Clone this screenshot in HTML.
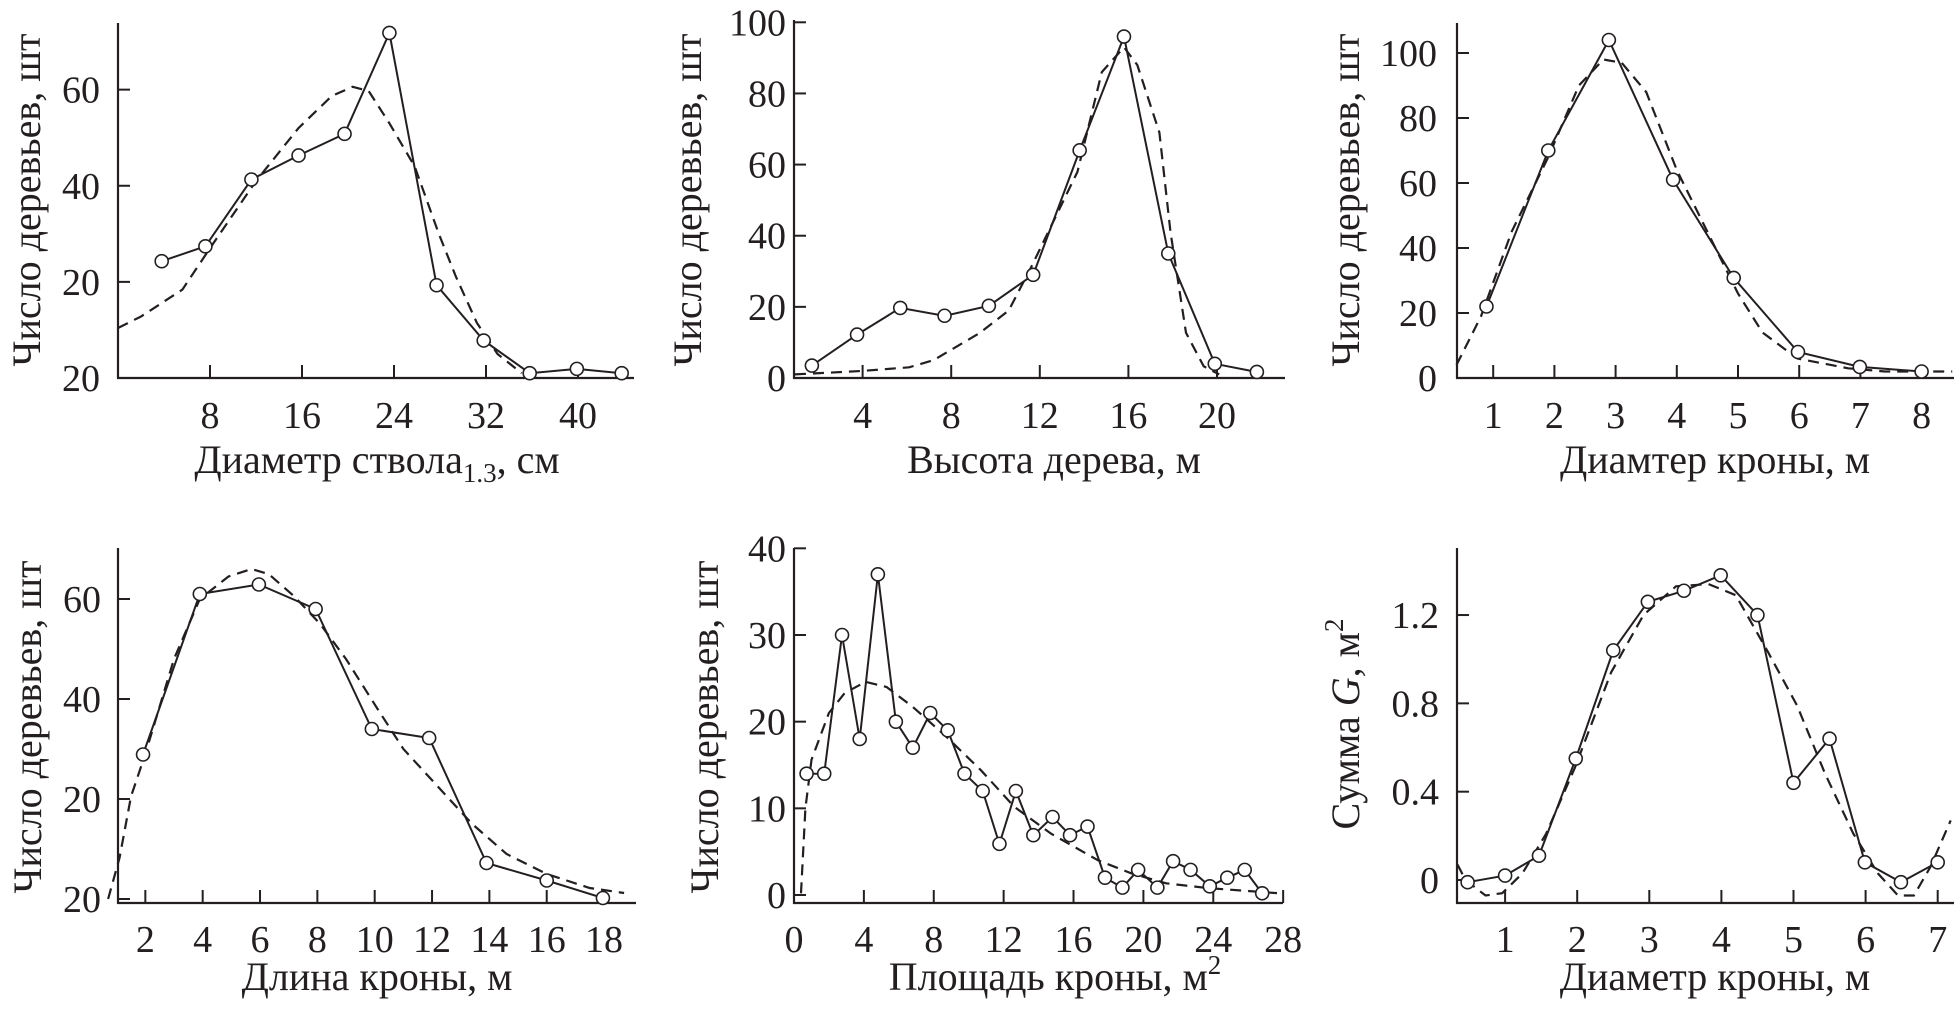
<!DOCTYPE html>
<html><head><meta charset="utf-8"><style>
html,body{margin:0;padding:0;background:#fff}
svg{display:block}
text{font-family:"Liberation Serif",serif;fill:#231f20}
</style></head><body>
<svg id="fig" width="1954" height="1012" viewBox="0 0 1954 1012" xmlns="http://www.w3.org/2000/svg"></svg>
<script>
// Panel 1: stem diameter
const p1X=[3.8,7.6,11.6,15.7,19.7,23.6,27.7,31.8,35.8,39.9,43.8];
const p1Y=[24.3,27.4,41.3,46.3,50.8,71.8,19.3,7.8,1,1.9,1];
const p1FX=[0,2,5.6,8,12,15.7,18.6,20.4,21.8,23.6,25.8,27.9,29.4,31.2,33,35.1];
const p1FY=[10.4,12.8,18.4,27,41,52,58.7,60.6,59.7,53,44,30,21,11.5,5,1];
const p1XT=[8,16,24,32,40];
const p1YT=[0,20,40,60];
const p1YL=["20","20","40","60"];
// Panel 2: tree height
const p2X=[1.71,3.75,5.7,7.7,9.7,11.7,13.8,15.8,17.8,19.9,21.8];
const p2Y=[3.5,12.2,19.7,17.5,20.3,29,64,96,35,4,1.7];
const p2FX=[0.95,4,6.1,7.2,9.3,10.6,11.6,13.7,14.8,15.8,16.4,17.4,17.9,18.6,19.4,20.1];
const p2FY=[1,2,3,5,12.7,19,31,58,86,93,88,69,41,12.7,3.3,1];
const p2XT=[4,8,12,16,20];
const p2YT=[0,20,40,60,80,100];
// Panel 3: crown diameter (count)
const p3X=[0.89,1.9,2.89,3.94,4.93,5.98,6.99,8];
const p3Y=[22,70,104,61,30.8,8,3.4,2];
const p3FX=[0.4,0.8,1.3,1.9,2.4,2.8,3.1,3.5,4.0,4.5,5.0,5.4,5.97,6.8,7.4,8.5];
const p3FY=[4,19,45,68,90,98,97,88,64,45,26,14,6,3,2,2];
const p3XT=[1,2,3,4,5,6,7,8];
const p3YT=[0,20,40,60,80,100];
// Panel 4: crown length
const p4X=[1.92,3.9,5.96,7.94,9.9,11.9,13.9,16,17.96];
const p4Y=[28.9,61,62.9,58,34,32.2,7.2,3.7,0.2];
const p4FX=[0.7,1.1,1.5,2,3,3.9,4.9,5.7,6.3,7.2,8.1,9,10.1,11,12.2,13.4,14.6,16,17.5,18.7];
const p4FY=[0,8.2,20.5,29,48,60,64.5,66,65,60.5,55,48,38,30,22.5,15,9,5,2.2,1.2];
const p4XT=[2,4,6,8,10,12,14,16,18];
const p4YT=[0,20,40,60];
const p4YL=["20","20","40","60"];
// Panel 5: crown area
const p5X=[0.72,1.73,2.75,3.76,4.8,5.83,6.8,7.8,8.8,9.76,10.8,11.76,12.7,13.7,14.8,15.8,16.8,17.8,18.8,19.7,20.8,21.7,22.7,23.8,24.8,25.8,26.8];
const p5Y=[14,14,30,18,37,20,17,21,19,14,12,5.9,12,6.9,9,6.9,7.9,2,0.85,2.9,0.85,3.9,2.9,1,2,2.9,0.2];
const p5FX=[0.4,0.65,1,2,2.9,4.1,5.3,6.8,8.7,10.7,12.6,14.7,17.4,19.3,21.3,23.7,27.8];
const p5FY=[0.2,10,15.6,21,23.3,24.6,24,21.7,18.3,14.4,10.2,7.1,4,2.5,1.35,0.8,0.2];
const p5XT=[0,4,8,12,16,20,24,28];
const p5YT=[0,10,20,30,40];
// Panel 6: sum of G vs crown diameter
const p6X=[0.48,1,1.47,1.98,2.5,2.98,3.48,3.99,4.5,5,5.5,5.99,6.49,7];
const p6Y=[-0.01,0.02,0.11,0.55,1.04,1.26,1.31,1.38,1.2,0.44,0.64,0.08,-0.01,0.08];
const p6FX=[0.34,0.45,0.73,0.96,1.24,1.57,1.97,2.47,2.92,3.37,3.82,4.2,4.65,5.05,5.44,5.83,6.17,6.45,6.67,6.9,7.18];
const p6FY=[0.07,0,-0.07,-0.06,0.03,0.21,0.51,0.94,1.2,1.33,1.34,1.29,1.03,0.79,0.48,0.21,0.03,-0.07,-0.07,0.06,0.27];
const p6XT=[1,2,3,4,5,6,7];
const p6YT=[0,0.4,0.8,1.2];
const p6YL=["0","0.4","0.8","1.2"];

const NS="http://www.w3.org/2000/svg";
const svg=document.getElementById('fig');
function mk(tag,attrs,parent){const e=document.createElementNS(NS,tag);for(const k in attrs)e.setAttribute(k,attrs[k]);(parent||svg).appendChild(e);return e;}

function panel(cfg){
  const g=mk('g',{});
  
  
  const sx=u=>cfg.x0+u*cfg.kx, sy=v=>cfg.y0-v*cfg.ky;
  // axes
  const ya=mk('line',{x1:cfg.ax,y1:cfg.top,x2:cfg.ax,y2:cfg.xb+1,stroke:'#231f20','stroke-width':2.2},g);
  
  const xa=mk('line',{x1:cfg.ax-1,y1:cfg.xb,x2:cfg.right,y2:cfg.xb,stroke:'#231f20','stroke-width':2.2},g);
  
  cfg.yt.forEach((v,i)=>{
    const y=sy(v);
    mk('line',{x1:cfg.ax,y1:y,x2:cfg.ax+12,y2:y,stroke:'#231f20','stroke-width':2},g);
    const t=mk('text',{x:cfg.ylx,y:y+13,'text-anchor':'end','font-size':38},g);
    t.textContent=cfg.yl?cfg.yl[i]:String(v);
    
  });
  cfg.xt.forEach(u=>{
    const x=sx(u);
    mk('line',{x1:x,y1:cfg.xb,x2:x,y2:cfg.xb-13,stroke:'#231f20','stroke-width':2},g);
    const t=mk('text',{x:x,y:cfg.xtb,'text-anchor':'middle','font-size':38},g);
    t.textContent=String(u);
    
  });
  // fitted dashed curve
  const dp=cfg.fx.map((u,i)=>sx(u).toFixed(1)+','+sy(cfg.fy[i]).toFixed(1)).join(' ');
  const dl=mk('polyline',{points:dp,fill:'none',stroke:'#231f20','stroke-width':2.2,'stroke-dasharray':'11 7'},g);
  
  // empirical line
  const lp=cfg.px.map((u,i)=>sx(u).toFixed(1)+','+sy(cfg.py[i]).toFixed(1)).join(' ');
  const ll=mk('polyline',{points:lp,fill:'none',stroke:'#231f20','stroke-width':2},g);
  
  cfg.px.forEach((u,i)=>{
    const c=mk('circle',{cx:sx(u),cy:sy(cfg.py[i]),r:6.5,fill:'#fff',stroke:'#231f20','stroke-width':1.6},g);
    
  });
  // x label
  const xl=mk('text',{x:cfg.xlx,y:cfg.xly,'text-anchor':'middle','font-size':40},g);
  xl.innerHTML=cfg.xlabel;
  
  const yl=mk('text',{x:0,y:0,'text-anchor':'middle','font-size':40,transform:'translate('+cfg.ylbx+','+cfg.ylcy+') rotate(-90)'},g);
  yl.innerHTML=cfg.ylabel;
  
}
const YLAB='Число деревьев, шт';
panel({name:'panel-stem-diameter',ax:118,top:23,xb:378,right:634,x0:118,kx:11.5,y0:378,ky:4.806,
  yt:p1YT,yl:p1YL,xt:p1XT,px:p1X,py:p1Y,fx:p1FX,fy:p1FY,ylx:100,xtb:428,
  xlabel:'Диаметр ствола<tspan font-size="27" dy="9">1.3</tspan><tspan dy="-9">, см</tspan>',xlx:377,xly:473,ylabel:YLAB,ylbx:40,ylcy:200});
panel({name:'panel-tree-height',ax:794,top:20,xb:378,right:1285,x0:774,kx:22.15,y0:378,ky:3.557,
  yt:p2YT,xt:p2XT,px:p2X,py:p2Y,fx:p2FX,fy:p2FY,ylx:786,xtb:428,
  xlabel:'Высота дерева, м',xlx:1054,xly:473,ylabel:YLAB,ylbx:701,ylcy:200});
panel({name:'panel-crown-diameter-count',ax:1457,top:23,xb:378,right:1954,x0:1432,kx:61.2,y0:378,ky:3.25,
  yt:p3YT,xt:p3XT,px:p3X,py:p3Y,fx:p3FX,fy:p3FY,ylx:1437,xtb:428,
  xlabel:'Диамтер кроны, м',xlx:1715,xly:473,ylabel:YLAB,ylbx:1359,ylcy:200});
panel({name:'panel-crown-length',ax:118,top:548,xb:903,right:636,x0:88,kx:22.7*1.263,y0:899,ky:5,
  yt:p4YT,yl:p4YL,xt:p4XT,px:p4X,py:p4Y,fx:p4FX,fy:p4FY,ylx:101,xtb:952,
  xlabel:'Длина кроны, м',xlx:377,xly:990,ylabel:YLAB,ylbx:41,ylcy:727});
panel({name:'panel-crown-area',ax:794,top:548,xb:903,right:1283,x0:794,kx:17.47,y0:895,ky:8.667,
  yt:p5YT,xt:p5XT,px:p5X,py:p5Y,fx:p5FX,fy:p5FY,ylx:786,xtb:952,
  xlabel:'Площадь кроны, м<tspan font-size="27" dy="-16">2</tspan>',xlx:1055,xly:990,ylabel:YLAB,ylbx:718,ylcy:727});
panel({name:'panel-basal-area-sum',ax:1457,top:548,xb:903,right:1954,x0:1433,kx:72.1,y0:880,ky:220.8,
  yt:p6YT,yl:p6YL,xt:p6XT,px:p6X,py:p6Y,fx:p6FX,fy:p6FY,ylx:1439,xtb:952,
  xlabel:'Диаметр кроны, м',xlx:1715,xly:990,ylabel:'Сумма <tspan font-style="italic">G</tspan>, м<tspan font-size="27" dy="-16">2</tspan>',ylbx:1359,ylcy:724});
</script>
</body></html>
